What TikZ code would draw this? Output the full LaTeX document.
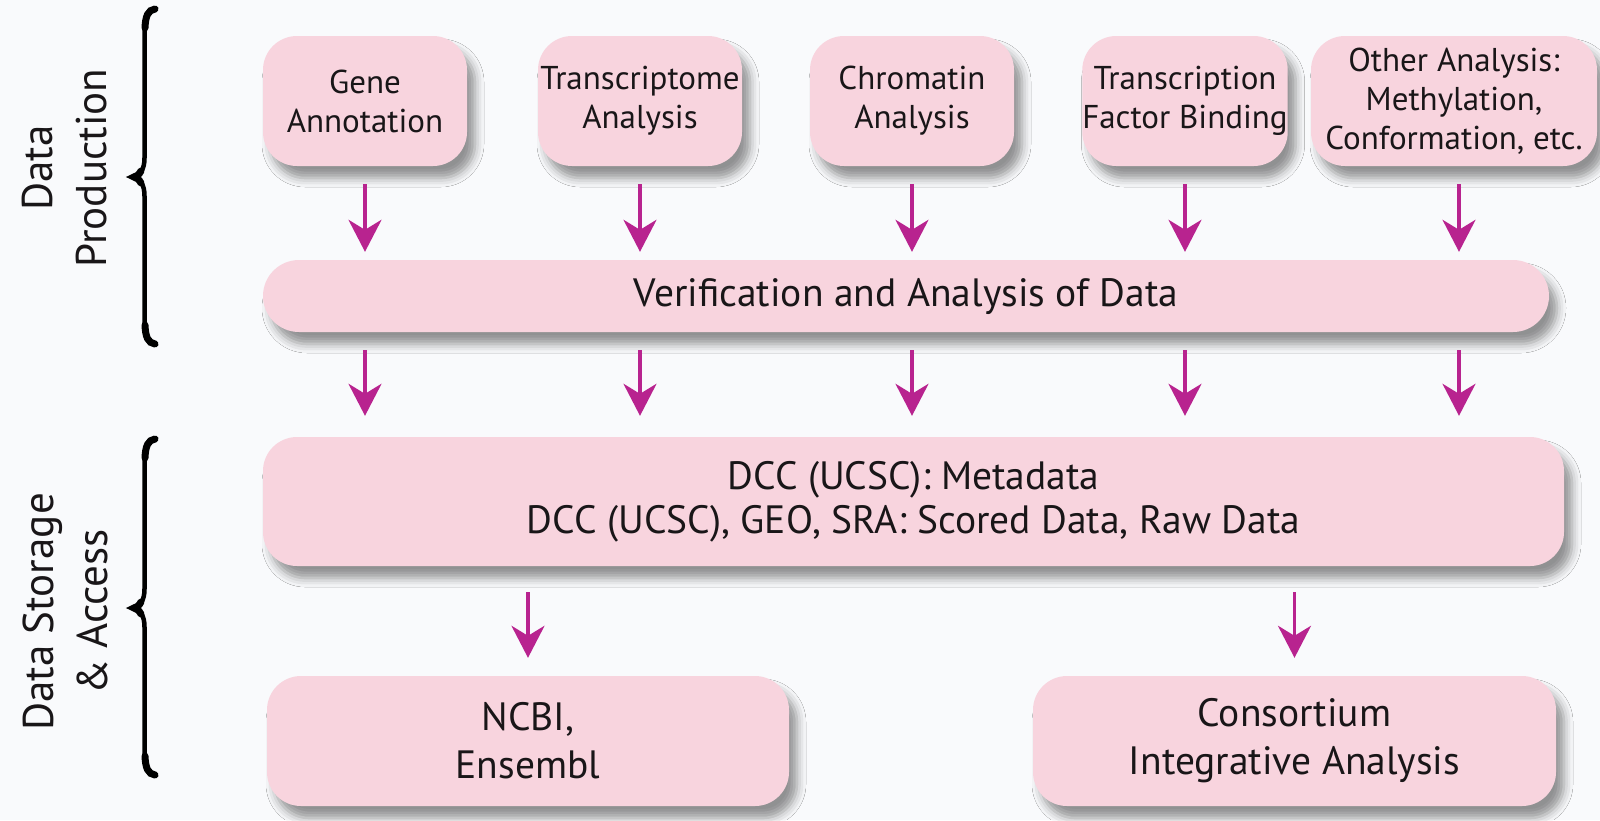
\documentclass[tikz,border=0pt]{standalone}
\usepackage{fontspec}
\setmainfont{PT Sans}
\usetikzlibrary{arrows.meta,shadows.blur}
\definecolor{bgcol}{RGB}{249,250,252}
\definecolor{boxpink}{RGB}{248,212,222}
\definecolor{flowmag}{RGB}{184,35,143}
\definecolor{inkcol}{RGB}{25,22,24}
\begin{document}
\begin{tikzpicture}[x=1pt,y=-1pt,
  pbox/.style={rounded corners=34pt, fill=boxpink, draw=none, inner sep=0pt,
     align=center, text=inkcol,
     blur shadow={shadow xshift=8pt, shadow yshift=-12pt,
                  shadow blur radius=9pt, shadow opacity=42}},
  topbox/.style={pbox, minimum width=204pt, minimum height=130pt,
     font=\fontsize{33}{39}\selectfont},
  bigbox/.style={pbox, minimum height=130pt, font=\fontsize{39.5}{48}\selectfont},
  flow/.style={draw=flowmag, line width=3.2pt,
     -{Stealth[length=32pt,width=33pt,inset=10pt]}},
  sidelabel/.style={rotate=90, align=center, text=inkcol,
     font=\fontsize{43}{54}\selectfont},
  brace/.style={draw=black, line width=4.5pt, line cap=round},
  bracehook/.style={draw=black, line width=7pt, line cap=round}
]
\useasboundingbox (0,0) rectangle (1600,820);
\fill[bgcol] (0,0) rectangle (1600,820);

% --- data production row
\node[topbox] (gene)  at (365,101)  {Gene\\Annotation};
\node[topbox] (trans) at (640,101)  {Transcriptome\\Analysis};
\node[topbox] (chrom) at (912,101)  {Chromatin\\Analysis};
\node[topbox] (tfb)   at (1185,101) {Transcription\\Factor Binding};
\node[topbox, minimum width=286pt] (other) at (1454,101)
  {Other Analysis:\\Methylation,\\Conformation, etc.};

\node[pbox, minimum width=1286pt, minimum height=72pt, rounded corners=36pt,
      font=\fontsize{39.5}{48}\selectfont] (verif) at (906,296)
  {Verification and Analysis of Data};

% --- storage and access
\node[pbox, minimum width=1301pt, minimum height=129pt,
      font=\fontsize{39.5}{44}\selectfont] (dcc) at (913.5,501.5)
  {DCC (UCSC): Metadata\\DCC (UCSC), GEO, SRA: Scored Data, Raw Data};

\node[bigbox, minimum width=522pt] (ncbi) at (528,741) {NCBI,\\Ensembl};
\node[bigbox, minimum width=523pt] (cons) at (1294.5,741)
  {Consortium\\Integrative Analysis};

% --- flow arrows
\foreach \b in {gene,trans,chrom,tfb}{
  \draw[flow, shorten <=18pt, shorten >=8pt]
    (\b.south) -- (\b.south |- verif.north);
  \draw[flow, shorten <=18pt, shorten >=21pt]
    (verif.south -| \b.south) -- (\b.south |- dcc.north);
}
\coordinate (otherx) at ([xshift=5pt]other.south);
\draw[flow, shorten <=18pt, shorten >=8pt]
  (otherx) -- (otherx |- verif.north);
\draw[flow, shorten <=18pt, shorten >=21pt]
  (verif.south -| otherx) -- (otherx |- dcc.north);

\draw[flow, shorten <=26pt, shorten >=18pt] (dcc.south -| ncbi.north) -- (ncbi.north);
\draw[flow, shorten <=26pt, shorten >=18pt] (dcc.south -| cons.north) -- (cons.north);

% --- side labels
\node[sidelabel] (prodlabel)  at (65,168) {Data\\Production};
\node[sidelabel] (storelabel) at (65,612) {Data Storage\\\& Access};

% --- curly braces: a thin stroke with heavier hooks at the ends and the tip
\draw[brace] (155,9) .. controls (146,11) and (144.5,20) .. (144.5,36)
  -- (144.5,158) .. controls (144.5,170) and (140,175) .. (133,177)
  .. controls (140,179) and (144.5,184) .. (144.5,196)
  -- (144.5,318) .. controls (144.5,334) and (146,341) .. (155,344);
\draw[bracehook] (155,9) .. controls (148,10) and (145.5,16) .. (145,28);
\draw[bracehook] (155,344) .. controls (148,343) and (145.5,337) .. (145,325);
\draw[bracehook] (141,171) .. controls (139,175) and (136,176.5) .. (134,177)
  .. controls (136,177.5) and (139,179) .. (141,183);

\draw[brace] (155,439) .. controls (146,441) and (144.5,450) .. (144.5,466)
  -- (144.5,589) .. controls (144.5,601) and (140,606) .. (133,608)
  .. controls (140,610) and (144.5,615) .. (144.5,627)
  -- (144.5,748) .. controls (144.5,764) and (146,772) .. (155,775);
\draw[bracehook] (155,439) .. controls (148,440) and (145.5,446) .. (145,458);
\draw[bracehook] (155,775) .. controls (148,774) and (145.5,768) .. (145,756);
\draw[bracehook] (141,602) .. controls (139,606) and (136,607.5) .. (134,608)
  .. controls (136,608.5) and (139,610) .. (141,614);
\end{tikzpicture}
\end{document}
